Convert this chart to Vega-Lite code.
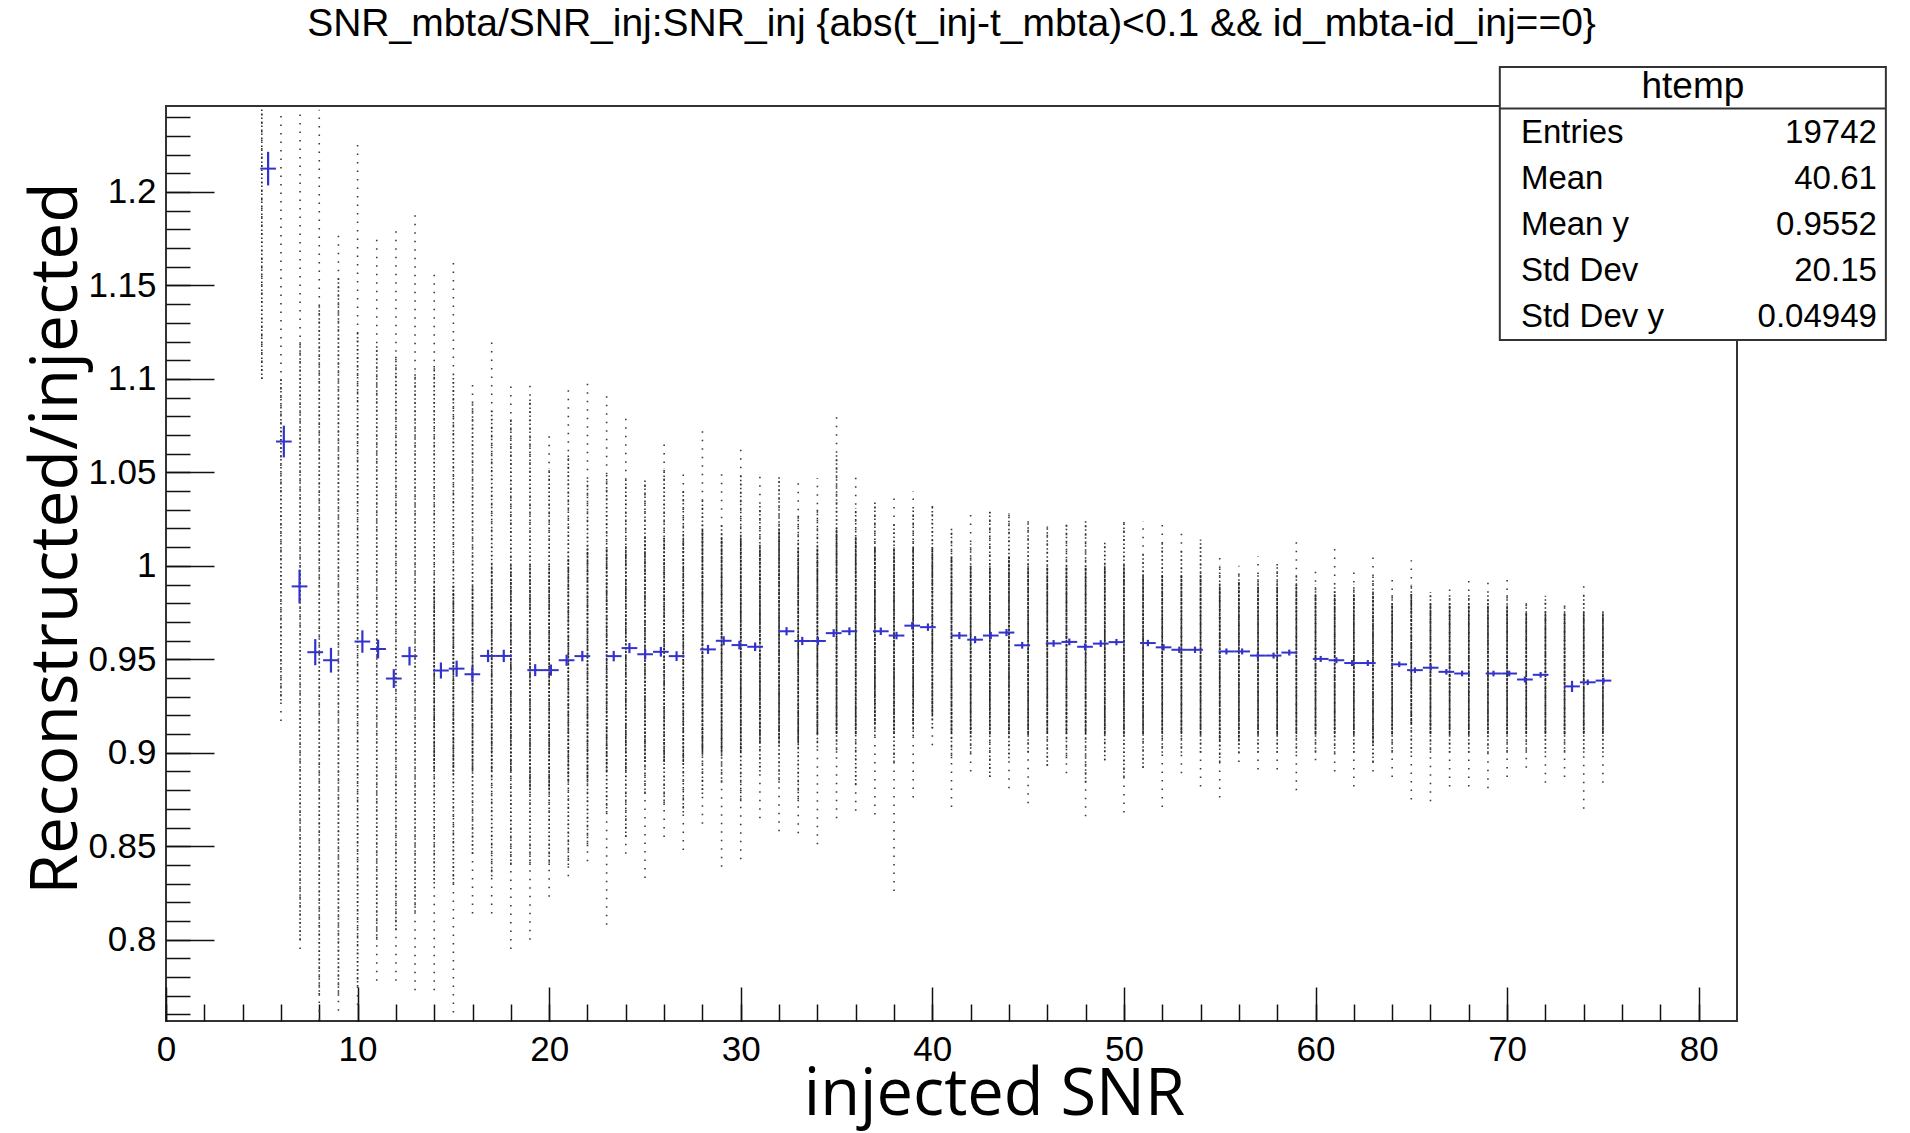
{
  "$schema": "https://vega.github.io/schema/vega-lite/v6.json",
  "width": 1571,
  "height": 915,
  "autosize": {"type": "none"},
  "padding": {"left": 166, "top": 106, "right": 173, "bottom": 112},
  "background": "white",
  "config": {
    "view": {"stroke": "#333333", "strokeWidth": 2},
    "font": "Liberation Sans",
    "axis": {"grid": false, "domain": false, "labelColor": "#000000", "tickColor": "#111111", "titleColor": "#000000"}
  },
  "title": {
    "text": "SNR_mbta/SNR_inj:SNR_inj {abs(t_inj-t_mbta)<0.1 && id_mbta-id_inj==0}",
    "font": "Liberation Sans", "fontSize": 39, "fontWeight": "normal", "color": "#000000",
    "anchor": "middle", "frame": "group", "offset": -9, "baseline": "alphabetic"
  },
  "datasets": {
    "cols": [
      {"x": 5, "ymin": 1.1, "ymax": 1.246, "lo": 1.1, "hi": 1.246},
      {"x": 6, "ymin": 0.917, "ymax": 1.243, "lo": 0.928, "hi": 1.1},
      {"x": 7, "ymin": 0.795, "ymax": 1.244, "lo": 0.8, "hi": 1.12},
      {"x": 8, "ymin": 0.757, "ymax": 1.244, "lo": 0.77, "hi": 1.14},
      {"x": 9, "ymin": 0.762, "ymax": 1.179, "lo": 0.77, "hi": 1.155},
      {"x": 10, "ymin": 0.765, "ymax": 1.227, "lo": 0.775, "hi": 1.125},
      {"x": 11, "ymin": 0.778, "ymax": 1.178, "lo": 0.8, "hi": 1.118},
      {"x": 12, "ymin": 0.778, "ymax": 1.181, "lo": 0.805, "hi": 1.113},
      {"x": 13, "ymin": 0.773, "ymax": 1.189, "lo": 0.815, "hi": 1.104},
      {"x": 14, "ymin": 0.773, "ymax": 1.158, "lo": 0.83, "hi": 1.108, "slo": 0.89, "shi": 0.99},
      {"x": 15, "ymin": 0.761, "ymax": 1.163, "lo": 0.83, "hi": 1.102, "slo": 0.89, "shi": 0.99},
      {"x": 16, "ymin": 0.814, "ymax": 1.099, "lo": 0.846, "hi": 1.088, "slo": 0.89, "shi": 0.99},
      {"x": 17, "ymin": 0.814, "ymax": 1.123, "lo": 0.834, "hi": 1.084, "slo": 0.89, "shi": 1.0},
      {"x": 18, "ymin": 0.795, "ymax": 1.098, "lo": 0.84, "hi": 1.079, "slo": 0.89, "shi": 1.0},
      {"x": 19, "ymin": 0.8, "ymax": 1.099, "lo": 0.84, "hi": 1.09, "slo": 0.88, "shi": 1.0},
      {"x": 20, "ymin": 0.823, "ymax": 1.071, "lo": 0.84, "hi": 1.052, "slo": 0.88, "shi": 1.0},
      {"x": 21, "ymin": 0.834, "ymax": 1.094, "lo": 0.84, "hi": 1.059, "slo": 0.885, "shi": 1.005},
      {"x": 22, "ymin": 0.842, "ymax": 1.099, "lo": 0.85, "hi": 1.046, "slo": 0.885, "shi": 1.01},
      {"x": 23, "ymin": 0.808, "ymax": 1.093, "lo": 0.868, "hi": 1.049, "slo": 0.89, "shi": 1.01},
      {"x": 24, "ymin": 0.846, "ymax": 1.082, "lo": 0.855, "hi": 1.046, "slo": 0.89, "shi": 1.01},
      {"x": 25, "ymin": 0.833, "ymax": 1.046, "lo": 0.878, "hi": 1.046, "slo": 0.895, "shi": 1.015},
      {"x": 26, "ymin": 0.855, "ymax": 1.066, "lo": 0.872, "hi": 1.052, "slo": 0.895, "shi": 1.015},
      {"x": 27, "ymin": 0.848, "ymax": 1.05, "lo": 0.868, "hi": 1.04, "slo": 0.895, "shi": 1.015},
      {"x": 28, "ymin": 0.862, "ymax": 1.075, "lo": 0.878, "hi": 1.035, "slo": 0.9, "shi": 1.02},
      {"x": 29, "ymin": 0.839, "ymax": 1.049, "lo": 0.884, "hi": 1.022, "slo": 0.9, "shi": 1.015},
      {"x": 30, "ymin": 0.843, "ymax": 1.065, "lo": 0.874, "hi": 1.049, "slo": 0.9, "shi": 1.015},
      {"x": 31, "ymin": 0.865, "ymax": 1.051, "lo": 0.89, "hi": 1.032, "slo": 0.905, "shi": 1.01},
      {"x": 32, "ymin": 0.858, "ymax": 1.048, "lo": 0.884, "hi": 1.048, "slo": 0.905, "shi": 1.02},
      {"x": 33, "ymin": 0.857, "ymax": 1.047, "lo": 0.874, "hi": 1.028, "slo": 0.905, "shi": 1.01},
      {"x": 34, "ymin": 0.851, "ymax": 1.047, "lo": 0.903, "hi": 1.031, "slo": 0.91, "shi": 1.01},
      {"x": 35, "ymin": 0.865, "ymax": 1.081, "lo": 0.9, "hi": 1.06, "slo": 0.91, "shi": 1.02},
      {"x": 36, "ymin": 0.869, "ymax": 1.049, "lo": 0.883, "hi": 1.031, "slo": 0.91, "shi": 1.015},
      {"x": 37, "ymin": 0.867, "ymax": 1.034, "lo": 0.909, "hi": 1.034, "slo": 0.915, "shi": 1.01},
      {"x": 38, "ymin": 0.826, "ymax": 1.039, "lo": 0.895, "hi": 1.022, "slo": 0.91, "shi": 1.01},
      {"x": 39, "ymin": 0.876, "ymax": 1.04, "lo": 0.909, "hi": 1.031, "slo": 0.915, "shi": 1.01},
      {"x": 40, "ymin": 0.904, "ymax": 1.032, "lo": 0.913, "hi": 1.032, "slo": 0.92, "shi": 1.01},
      {"x": 41, "ymin": 0.871, "ymax": 1.02, "lo": 0.897, "hi": 1.02, "slo": 0.91, "shi": 1.005},
      {"x": 42, "ymin": 0.89, "ymax": 1.031, "lo": 0.9, "hi": 1.012, "slo": 0.91, "shi": 1.0},
      {"x": 43, "ymin": 0.887, "ymax": 1.029, "lo": 0.887, "hi": 1.029, "slo": 0.91, "shi": 1.0},
      {"x": 44, "ymin": 0.881, "ymax": 1.028, "lo": 0.897, "hi": 1.028, "slo": 0.91, "shi": 1.005},
      {"x": 45, "ymin": 0.873, "ymax": 1.024, "lo": 0.9, "hi": 1.024, "slo": 0.91, "shi": 1.0},
      {"x": 46, "ymin": 0.893, "ymax": 1.021, "lo": 0.893, "hi": 1.021, "slo": 0.91, "shi": 1.0},
      {"x": 47, "ymin": 0.889, "ymax": 1.023, "lo": 0.897, "hi": 1.023, "slo": 0.91, "shi": 1.0},
      {"x": 48, "ymin": 0.866, "ymax": 1.024, "lo": 0.884, "hi": 1.024, "slo": 0.91, "shi": 1.0},
      {"x": 49, "ymin": 0.896, "ymax": 1.013, "lo": 0.896, "hi": 1.013, "slo": 0.91, "shi": 1.0},
      {"x": 50, "ymin": 0.868, "ymax": 1.024, "lo": 0.887, "hi": 1.024, "slo": 0.91, "shi": 1.0},
      {"x": 51, "ymin": 0.892, "ymax": 1.024, "lo": 0.892, "hi": 1.006, "slo": 0.91, "shi": 0.995},
      {"x": 52, "ymin": 0.871, "ymax": 1.024, "lo": 0.9, "hi": 1.013, "slo": 0.91, "shi": 0.995},
      {"x": 53, "ymin": 0.889, "ymax": 1.019, "lo": 0.9, "hi": 1.009, "slo": 0.91, "shi": 0.995},
      {"x": 54, "ymin": 0.882, "ymax": 1.014, "lo": 0.9, "hi": 1.014, "slo": 0.91, "shi": 0.995},
      {"x": 55, "ymin": 0.876, "ymax": 1.005, "lo": 0.895, "hi": 1.0, "slo": 0.906, "shi": 0.989},
      {"x": 56, "ymin": 0.895, "ymax": 1.0, "lo": 0.9, "hi": 0.995, "slo": 0.906, "shi": 0.991},
      {"x": 57, "ymin": 0.891, "ymax": 1.005, "lo": 0.9, "hi": 0.995, "slo": 0.91, "shi": 0.99},
      {"x": 58, "ymin": 0.891, "ymax": 1.001, "lo": 0.9, "hi": 1.0, "slo": 0.91, "shi": 0.99},
      {"x": 59, "ymin": 0.88, "ymax": 1.013, "lo": 0.9, "hi": 0.995, "slo": 0.91, "shi": 0.99},
      {"x": 60, "ymin": 0.896, "ymax": 1.0, "lo": 0.9, "hi": 0.99, "slo": 0.91, "shi": 0.985},
      {"x": 61, "ymin": 0.89, "ymax": 1.011, "lo": 0.9, "hi": 0.99, "slo": 0.91, "shi": 0.985},
      {"x": 62, "ymin": 0.882, "ymax": 0.998, "lo": 0.9, "hi": 0.99, "slo": 0.91, "shi": 0.985},
      {"x": 63, "ymin": 0.89, "ymax": 1.005, "lo": 0.895, "hi": 0.995, "slo": 0.905, "shi": 0.985},
      {"x": 64, "ymin": 0.887, "ymax": 0.993, "lo": 0.9, "hi": 0.985, "slo": 0.91, "shi": 0.98},
      {"x": 65, "ymin": 0.875, "ymax": 1.003, "lo": 0.9, "hi": 0.99, "slo": 0.915, "shi": 0.985},
      {"x": 66, "ymin": 0.874, "ymax": 0.986, "lo": 0.9, "hi": 0.986, "slo": 0.91, "shi": 0.98},
      {"x": 67, "ymin": 0.882, "ymax": 0.988, "lo": 0.9, "hi": 0.985, "slo": 0.91, "shi": 0.98},
      {"x": 68, "ymin": 0.882, "ymax": 0.992, "lo": 0.9, "hi": 0.985, "slo": 0.91, "shi": 0.98},
      {"x": 69, "ymin": 0.881, "ymax": 0.993, "lo": 0.9, "hi": 0.985, "slo": 0.91, "shi": 0.98},
      {"x": 70, "ymin": 0.887, "ymax": 0.993, "lo": 0.9, "hi": 0.985, "slo": 0.91, "shi": 0.978},
      {"x": 71, "ymin": 0.892, "ymax": 0.982, "lo": 0.9, "hi": 0.98, "slo": 0.91, "shi": 0.975},
      {"x": 72, "ymin": 0.884, "ymax": 0.984, "lo": 0.9, "hi": 0.984, "slo": 0.91, "shi": 0.975},
      {"x": 73, "ymin": 0.887, "ymax": 0.982, "lo": 0.9, "hi": 0.978, "slo": 0.91, "shi": 0.975},
      {"x": 74, "ymin": 0.87, "ymax": 0.991, "lo": 0.9, "hi": 0.984, "slo": 0.91, "shi": 0.975},
      {"x": 75, "ymin": 0.884, "ymax": 0.978, "lo": 0.9, "hi": 0.975, "slo": 0.91, "shi": 0.975}
    ],
    "prof": [
      {"xc": 5.33, "x0": 4.92, "x1": 5.74, "m": 1.2125, "lo": 1.2035, "hi": 1.2215},
      {"xc": 6.15, "x0": 5.74, "x1": 6.56, "m": 1.0665, "lo": 1.058, "hi": 1.075},
      {"xc": 6.97, "x0": 6.56, "x1": 7.38, "m": 0.989, "lo": 0.98, "hi": 0.998},
      {"xc": 7.79, "x0": 7.38, "x1": 8.2, "m": 0.9538, "lo": 0.9468, "hi": 0.9608},
      {"xc": 8.61, "x0": 8.2, "x1": 9.02, "m": 0.9495, "lo": 0.9429, "hi": 0.9561},
      {"xc": 10.25, "x0": 9.84, "x1": 10.66, "m": 0.9595, "lo": 0.9535, "hi": 0.9655},
      {"xc": 11.07, "x0": 10.66, "x1": 11.48, "m": 0.9555, "lo": 0.9505, "hi": 0.9605},
      {"xc": 11.89, "x0": 11.48, "x1": 12.3, "m": 0.9397, "lo": 0.9347, "hi": 0.9447},
      {"xc": 12.71, "x0": 12.3, "x1": 13.12, "m": 0.9517, "lo": 0.9467, "hi": 0.9567},
      {"xc": 14.35, "x0": 13.94, "x1": 14.76, "m": 0.944, "lo": 0.9397, "hi": 0.9483},
      {"xc": 15.17, "x0": 14.76, "x1": 15.58, "m": 0.945, "lo": 0.9407, "hi": 0.9493},
      {"xc": 15.99, "x0": 15.58, "x1": 16.4, "m": 0.942, "lo": 0.938, "hi": 0.946},
      {"xc": 16.81, "x0": 16.4, "x1": 17.22, "m": 0.9518, "lo": 0.9485, "hi": 0.9551},
      {"xc": 17.63, "x0": 17.22, "x1": 18.04, "m": 0.9518, "lo": 0.9485, "hi": 0.9551},
      {"xc": 19.27, "x0": 18.86, "x1": 19.68, "m": 0.9442, "lo": 0.941, "hi": 0.9474},
      {"xc": 20.09, "x0": 19.68, "x1": 20.5, "m": 0.9442, "lo": 0.9412, "hi": 0.9472},
      {"xc": 20.91, "x0": 20.5, "x1": 21.32, "m": 0.9495, "lo": 0.9465, "hi": 0.9525},
      {"xc": 21.73, "x0": 21.32, "x1": 22.14, "m": 0.9517, "lo": 0.9489, "hi": 0.9545},
      {"xc": 23.37, "x0": 22.96, "x1": 23.78, "m": 0.9517, "lo": 0.9489, "hi": 0.9545},
      {"xc": 24.19, "x0": 23.78, "x1": 24.6, "m": 0.956, "lo": 0.9533, "hi": 0.9587},
      {"xc": 25.01, "x0": 24.6, "x1": 25.42, "m": 0.9527, "lo": 0.95, "hi": 0.9554},
      {"xc": 25.83, "x0": 25.42, "x1": 26.24, "m": 0.954, "lo": 0.9514, "hi": 0.9566},
      {"xc": 26.65, "x0": 26.24, "x1": 27.06, "m": 0.9517, "lo": 0.9491, "hi": 0.9543},
      {"xc": 28.29, "x0": 27.88, "x1": 28.7, "m": 0.9553, "lo": 0.9529, "hi": 0.9577},
      {"xc": 29.11, "x0": 28.7, "x1": 29.52, "m": 0.9599, "lo": 0.9575, "hi": 0.9623},
      {"xc": 29.93, "x0": 29.52, "x1": 30.34, "m": 0.9576, "lo": 0.9553, "hi": 0.9599},
      {"xc": 30.75, "x0": 30.34, "x1": 31.16, "m": 0.9567, "lo": 0.9544, "hi": 0.959},
      {"xc": 32.39, "x0": 31.98, "x1": 32.8, "m": 0.965, "lo": 0.9628, "hi": 0.9672},
      {"xc": 33.21, "x0": 32.8, "x1": 33.62, "m": 0.9598, "lo": 0.9576, "hi": 0.962},
      {"xc": 34.03, "x0": 33.62, "x1": 34.44, "m": 0.9598, "lo": 0.9576, "hi": 0.962},
      {"xc": 34.85, "x0": 34.44, "x1": 35.26, "m": 0.964, "lo": 0.9619, "hi": 0.9661},
      {"xc": 35.67, "x0": 35.26, "x1": 36.08, "m": 0.965, "lo": 0.9629, "hi": 0.9671},
      {"xc": 37.31, "x0": 36.9, "x1": 37.72, "m": 0.965, "lo": 0.963, "hi": 0.967},
      {"xc": 38.13, "x0": 37.72, "x1": 38.54, "m": 0.9627, "lo": 0.9607, "hi": 0.9647},
      {"xc": 38.95, "x0": 38.54, "x1": 39.36, "m": 0.968, "lo": 0.966, "hi": 0.97},
      {"xc": 39.77, "x0": 39.36, "x1": 40.18, "m": 0.9672, "lo": 0.9652, "hi": 0.9692},
      {"xc": 41.41, "x0": 41.0, "x1": 41.82, "m": 0.9627, "lo": 0.9608, "hi": 0.9646},
      {"xc": 42.23, "x0": 41.82, "x1": 42.64, "m": 0.9605, "lo": 0.9586, "hi": 0.9624},
      {"xc": 43.05, "x0": 42.64, "x1": 43.46, "m": 0.9627, "lo": 0.9608, "hi": 0.9646},
      {"xc": 43.87, "x0": 43.46, "x1": 44.28, "m": 0.9643, "lo": 0.9624, "hi": 0.9662},
      {"xc": 44.69, "x0": 44.28, "x1": 45.1, "m": 0.9575, "lo": 0.9557, "hi": 0.9593},
      {"xc": 46.33, "x0": 45.92, "x1": 46.74, "m": 0.9585, "lo": 0.9567, "hi": 0.9603},
      {"xc": 47.15, "x0": 46.74, "x1": 47.56, "m": 0.9593, "lo": 0.9575, "hi": 0.9611},
      {"xc": 47.97, "x0": 47.56, "x1": 48.38, "m": 0.9567, "lo": 0.9549, "hi": 0.9585},
      {"xc": 48.79, "x0": 48.38, "x1": 49.2, "m": 0.9584, "lo": 0.9566, "hi": 0.9602},
      {"xc": 49.61, "x0": 49.2, "x1": 50.02, "m": 0.9592, "lo": 0.9575, "hi": 0.9609},
      {"xc": 51.25, "x0": 50.84, "x1": 51.66, "m": 0.9587, "lo": 0.957, "hi": 0.9604},
      {"xc": 52.07, "x0": 51.66, "x1": 52.48, "m": 0.9564, "lo": 0.9547, "hi": 0.9581},
      {"xc": 52.89, "x0": 52.48, "x1": 53.3, "m": 0.9551, "lo": 0.9534, "hi": 0.9568},
      {"xc": 53.71, "x0": 53.3, "x1": 54.12, "m": 0.9551, "lo": 0.9534, "hi": 0.9568},
      {"xc": 55.35, "x0": 54.94, "x1": 55.76, "m": 0.9542, "lo": 0.9526, "hi": 0.9558},
      {"xc": 56.17, "x0": 55.76, "x1": 56.58, "m": 0.9542, "lo": 0.9526, "hi": 0.9558},
      {"xc": 56.99, "x0": 56.58, "x1": 57.4, "m": 0.952, "lo": 0.9504, "hi": 0.9536},
      {"xc": 57.81, "x0": 57.4, "x1": 58.22, "m": 0.952, "lo": 0.9504, "hi": 0.9536},
      {"xc": 58.63, "x0": 58.22, "x1": 59.04, "m": 0.9536, "lo": 0.952, "hi": 0.9552},
      {"xc": 60.27, "x0": 59.86, "x1": 60.68, "m": 0.9502, "lo": 0.9486, "hi": 0.9518},
      {"xc": 61.09, "x0": 60.68, "x1": 61.5, "m": 0.9495, "lo": 0.9479, "hi": 0.9511},
      {"xc": 61.91, "x0": 61.5, "x1": 62.32, "m": 0.948, "lo": 0.9464, "hi": 0.9496},
      {"xc": 62.73, "x0": 62.32, "x1": 63.14, "m": 0.948, "lo": 0.9464, "hi": 0.9496},
      {"xc": 64.37, "x0": 63.96, "x1": 64.78, "m": 0.9473, "lo": 0.9458, "hi": 0.9488},
      {"xc": 65.19, "x0": 64.78, "x1": 65.6, "m": 0.9442, "lo": 0.9427, "hi": 0.9457},
      {"xc": 66.01, "x0": 65.6, "x1": 66.42, "m": 0.9455, "lo": 0.944, "hi": 0.947},
      {"xc": 66.83, "x0": 66.42, "x1": 67.24, "m": 0.9433, "lo": 0.9418, "hi": 0.9448},
      {"xc": 67.65, "x0": 67.24, "x1": 68.06, "m": 0.9424, "lo": 0.9409, "hi": 0.9439},
      {"xc": 69.29, "x0": 68.88, "x1": 69.7, "m": 0.9424, "lo": 0.9409, "hi": 0.9439},
      {"xc": 70.11, "x0": 69.7, "x1": 70.52, "m": 0.9424, "lo": 0.9409, "hi": 0.9439},
      {"xc": 70.93, "x0": 70.52, "x1": 71.34, "m": 0.9392, "lo": 0.9376, "hi": 0.9408},
      {"xc": 71.75, "x0": 71.34, "x1": 72.16, "m": 0.9417, "lo": 0.9402, "hi": 0.9432},
      {"xc": 73.39, "x0": 72.98, "x1": 73.8, "m": 0.9355, "lo": 0.9325, "hi": 0.9385},
      {"xc": 74.21, "x0": 73.8, "x1": 74.62, "m": 0.9377, "lo": 0.9362, "hi": 0.9392},
      {"xc": 75.03, "x0": 74.62, "x1": 75.44, "m": 0.9386, "lo": 0.9371, "hi": 0.9401}
    ],
    "stats": [
      {"k": 1, "stat": "Entries", "val": "19742"},
      {"k": 2, "stat": "Mean", "val": "40.61"},
      {"k": 3, "stat": "Mean y", "val": "0.9552"},
      {"k": 4, "stat": "Std Dev", "val": "20.15"},
      {"k": 5, "stat": "Std Dev y", "val": "0.04949"}
    ],
    "header": [{"name": "htemp"}]
  },
  "layer": [
    {
      "data": {"name": "cols"},
      "mark": {"type": "rule", "color": "#3a3a3a", "strokeWidth": 1.6, "strokeDash": [1.5, 7]},
      "encoding": {
        "x": {"field": "x", "type": "quantitative", "scale": {"domain": [0, 82], "nice": false, "zero": false},
              "axis": {"orient": "bottom", "values": [0,2,4,6,8,10,12,14,16,18,20,22,24,26,28,30,32,34,36,38,40,42,44,46,48,50,52,54,56,58,60,62,64,66,68,70,72,74,76,78,80],
                       "labels": false, "ticks": true, "tickSize": -17, "tickWidth": 1.5, "title": null}},
        "y": {"field": "ymin", "type": "quantitative", "scale": {"domain": [0.7565, 1.246], "nice": false, "zero": false},
              "axis": {"orient": "left", "values": [0.76,0.77,0.78,0.79,0.8,0.81,0.82,0.83,0.84,0.85,0.86,0.87,0.88,0.89,0.9,0.91,0.92,0.93,0.94,0.95,0.96,0.97,0.98,0.99,1,1.01,1.02,1.03,1.04,1.05,1.06,1.07,1.08,1.09,1.1,1.11,1.12,1.13,1.14,1.15,1.16,1.17,1.18,1.19,1.2,1.21,1.22,1.23,1.24],
                       "labels": false, "ticks": true, "tickSize": -24, "tickWidth": 1.5, "title": null}},
        "y2": {"field": "ymax"}
      }
    },
    {
      "data": {"name": "cols"},
      "mark": {"type": "rule", "color": "#333333", "strokeWidth": 1.6, "strokeDash": [1.5, 2.5]},
      "encoding": {
        "x": {"field": "x", "type": "quantitative", "scale": {"domain": [0, 82], "nice": false, "zero": false},
              "axis": {"orient": "bottom", "values": [0,10,20,30,40,50,60,70,80], "labels": false, "ticks": true, "tickSize": -34, "tickWidth": 1.5, "title": null}},
        "y": {"field": "lo", "type": "quantitative", "scale": {"domain": [0.7565, 1.246], "nice": false, "zero": false},
              "axis": {"orient": "left", "values": [0.8,0.85,0.9,0.95,1,1.05,1.1,1.15,1.2], "labels": false, "ticks": true, "tickSize": -48, "tickWidth": 1.5, "title": null}},
        "y2": {"field": "hi"}
      }
    },
    {
      "data": {"name": "cols"},
      "mark": {"type": "rule", "color": "#2a2a2a", "strokeWidth": 1.6},
      "encoding": {
        "x": {"field": "x", "type": "quantitative", "scale": {"domain": [0, 82], "nice": false, "zero": false},
              "axis": {"orient": "bottom", "values": [0,10,20,30,40,50,60,70,80], "ticks": false, "labels": true,
                       "labelFont": "Liberation Sans", "labelFontSize": 35, "labelPadding": 11, "labelFlush": false,
                       "title": "injected SNR", "titleFont": "Open Sans", "titleFontSize": 65, "titleFontWeight": "normal",
                       "titleX": 828, "titleY": 93, "titleBaseline": "alphabetic", "titleAlign": "center"}},
        "y": {"field": "slo", "type": "quantitative", "scale": {"domain": [0.7565, 1.246], "nice": false, "zero": false},
              "axis": {"orient": "left", "values": [0.8,0.85,0.9,0.95,1,1.05,1.1,1.15,1.2], "format": ".3~g", "ticks": false, "labels": true,
                       "labelFont": "Liberation Sans", "labelFontSize": 35, "labelPadding": 10, "labelFlush": false,
                       "title": "Reconstructed/injected", "titleFont": "Open Sans", "titleFontSize": 66, "titleFontWeight": "normal",
                       "titleX": -90, "titleY": 432, "titleAngle": 270, "titleBaseline": "alphabetic", "titleAlign": "center"}},
        "y2": {"field": "shi"},
        "strokeDash": {"condition": {"test": "datum.x < 28", "value": [2, 1.6]}, "value": [3, 0.8]}
      }
    },
    {
      "data": {"name": "prof"},
      "mark": {"type": "rule", "color": "#3333cc", "strokeWidth": 2},
      "encoding": {
        "x": {"field": "x0", "type": "quantitative", "scale": {"domain": [0, 82], "nice": false, "zero": false}, "axis": null},
        "x2": {"field": "x1"},
        "y": {"field": "m", "type": "quantitative", "scale": {"domain": [0.7565, 1.246], "nice": false, "zero": false}, "axis": null}
      }
    },
    {
      "data": {"name": "prof"},
      "mark": {"type": "rule", "color": "#3333cc", "strokeWidth": 2.2},
      "encoding": {
        "x": {"field": "xc", "type": "quantitative", "scale": {"domain": [0, 82], "nice": false, "zero": false}, "axis": null},
        "y": {"field": "lo", "type": "quantitative", "scale": {"domain": [0.7565, 1.246], "nice": false, "zero": false}, "axis": null},
        "y2": {"field": "hi"}
      }
    },
    {
      "data": {"name": "header"},
      "mark": {"type": "rect", "fill": "white", "stroke": "#333333", "strokeWidth": 2},
      "encoding": {
        "x": {"datum": 69.62, "type": "quantitative", "scale": {"domain": [0, 82], "nice": false, "zero": false}, "axis": null},
        "x2": {"datum": 89.77},
        "y": {"datum": -0.435, "type": "quantitative", "scale": {"domain": [0.413, 20.304], "nice": false, "zero": false, "reverse": true}, "axis": null},
        "y2": {"datum": 5.5}
      }
    },
    {
      "data": {"name": "header"},
      "mark": {"type": "rule", "color": "#333333", "strokeWidth": 2},
      "encoding": {
        "x": {"datum": 69.62, "type": "quantitative", "scale": {"domain": [0, 82], "nice": false, "zero": false}, "axis": null},
        "x2": {"datum": 89.77},
        "y": {"datum": 0.47, "type": "quantitative", "scale": {"domain": [0.413, 20.304], "nice": false, "zero": false, "reverse": true}, "axis": null}
      }
    },
    {
      "data": {"name": "header"},
      "mark": {"type": "text", "font": "Liberation Sans", "fontSize": 37, "align": "center", "baseline": "middle", "color": "#000000"},
      "encoding": {
        "x": {"datum": 79.7, "type": "quantitative", "scale": {"domain": [0, 82], "nice": false, "zero": false}, "axis": null},
        "y": {"datum": 0, "type": "quantitative", "scale": {"domain": [0.413, 20.304], "nice": false, "zero": false, "reverse": true}, "axis": null},
        "text": {"field": "name"}
      }
    },
    {
      "data": {"name": "stats"},
      "mark": {"type": "text", "font": "Liberation Sans", "fontSize": 33, "align": "left", "baseline": "middle", "color": "#000000"},
      "encoding": {
        "x": {"datum": 70.72, "type": "quantitative", "scale": {"domain": [0, 82], "nice": false, "zero": false}, "axis": null},
        "y": {"field": "k", "type": "quantitative", "scale": {"domain": [0.413, 20.304], "nice": false, "zero": false, "reverse": true}, "axis": null},
        "text": {"field": "stat"}
      }
    },
    {
      "data": {"name": "stats"},
      "mark": {"type": "text", "font": "Liberation Sans", "fontSize": 33, "align": "right", "baseline": "middle", "color": "#000000"},
      "encoding": {
        "x": {"datum": 89.3, "type": "quantitative", "scale": {"domain": [0, 82], "nice": false, "zero": false}, "axis": null},
        "y": {"field": "k", "type": "quantitative", "scale": {"domain": [0.413, 20.304], "nice": false, "zero": false, "reverse": true}, "axis": null},
        "text": {"field": "val"}
      }
    }
  ],
  "resolve": {"scale": {"y": "independent"}, "axis": {"x": "independent", "y": "independent"}}
}
